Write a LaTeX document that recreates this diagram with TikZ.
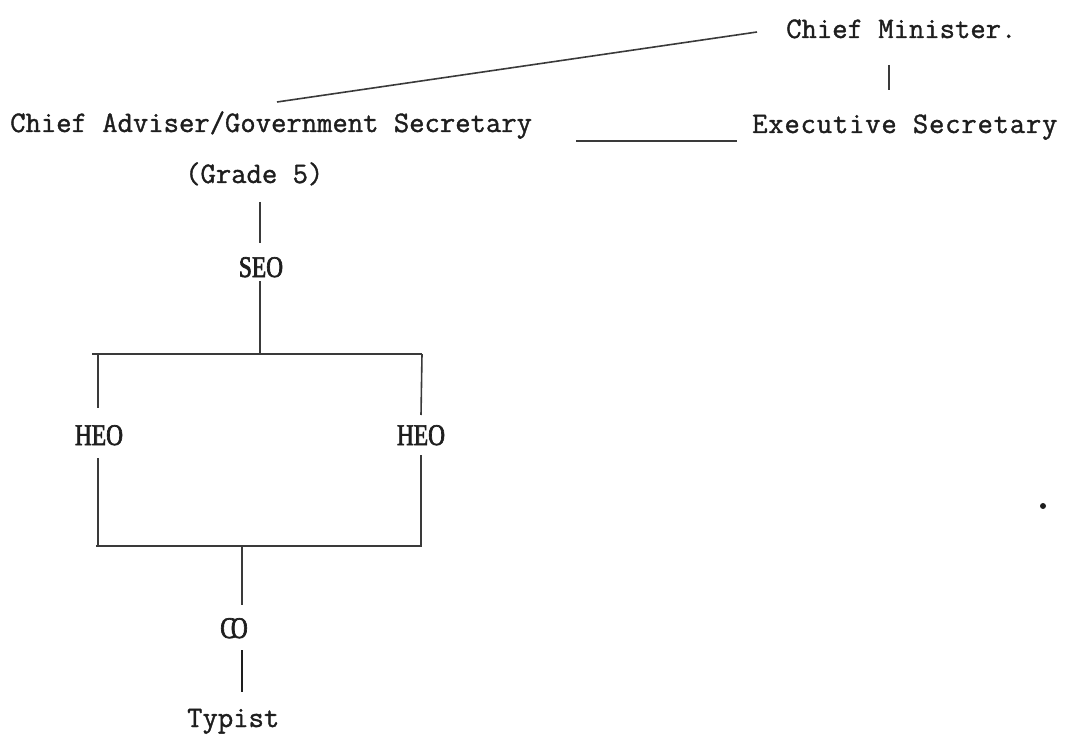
\documentclass[tikz,border=0pt]{standalone}
\usepackage{fontspec}
\newfontfamily\typefont[FakeBold=1.2]{Latin Modern Mono}
\newfontfamily\abbrfont[FakeStretch=0.78,FakeBold=2.2]{Liberation Serif}
\definecolor{ink}{HTML}{1E1E1E}
\definecolor{rule}{HTML}{3A3A3A}

\begin{document}
\begin{tikzpicture}[x=1pt,y=-1pt,
  lbl/.style={inner sep=0pt, anchor=base west, text=ink,
    font=\typefont\fontsize{29.8}{34}\selectfont},
  wide/.style={font=\typefont\fontsize{29.8}{34}\selectfont\addfontfeature{LetterSpace=2.7}},
  abbr/.style={inner sep=0pt, anchor=base, text=ink,
    font=\abbrfont\fontsize{30}{34}\selectfont},
  link/.style={draw=rule, line width=1.6pt},
  heavy/.style={draw=ink, line width=2.6pt}]
\useasboundingbox (0,0) rectangle (1068,738);

% posts
\node[lbl] (cm)   at (786,38)  {Chief Minister.};
\node[lbl,wide] (es) at (752,133) {Executive Secretary};
\node[lbl] (cas)  at (10,132)  {Chief Adviser/Government Secretary};
\node[lbl] (gr)   at (185,183) {(Grade 5)};
\node[abbr] (seo) at (261,277) {SEO};
\node[abbr] (heoL) at (99,445) {HEO};
\node[abbr] (heoR) at (421,445) {HEO};
\node[abbr] (co)  at (234,638) {C\kern-5pt O};
\node[lbl] (typ)  at (187,727) {Typist};

% connector end points
\coordinate (cmL)   at (757,32);
\coordinate (casT)  at (277,102);
\coordinate (cmB)   at (889,65);
\coordinate (esT)   at (889,90);
\coordinate (casR)  at (576,141);
\coordinate (esL)   at (737,141);
\coordinate (grB)   at (260,202);
\coordinate (seoT)  at (260,243);
\coordinate (seoB)  at (260,281);
\coordinate (topM)  at (260,354);
\coordinate (topL)  at (92,354);
\coordinate (topR)  at (422,354);
\coordinate (heoLT) at (98,408);
\coordinate (heoRT) at (421,415);
\coordinate (heoLB) at (98,458);
\coordinate (heoRB) at (421,455);
\coordinate (botL)  at (96,546);
\coordinate (botR)  at (422,546);
\coordinate (botM)  at (242,546);
\coordinate (coT)   at (242,605);
\coordinate (coB)   at (242,650);
\coordinate (typT)  at (242,692);

% reporting lines
\draw[link] (cmL) -- (casT);
\draw[link] (cmB) -- (esT);
\draw[link] (casR) -- (esL);
\draw[link] (grB) -- (seoT);
\draw[link] (seoB) -- (topM);
\draw[link] (topL) -- (topR);
\draw[link] (98,354) -- (heoLT);
\draw[link] (topR) -- (heoRT);
\draw[link] (heoLB) -- (98,546);
\draw[link] (heoRB) -- (421,546);
\draw[link] (botL) -- (botR);
\draw[link] (botM) -- (coT);
\draw[heavy] (coB) -- (typT);

% stray mark
\fill[ink] (1043,506) circle (3);
\end{tikzpicture}
\end{document}
